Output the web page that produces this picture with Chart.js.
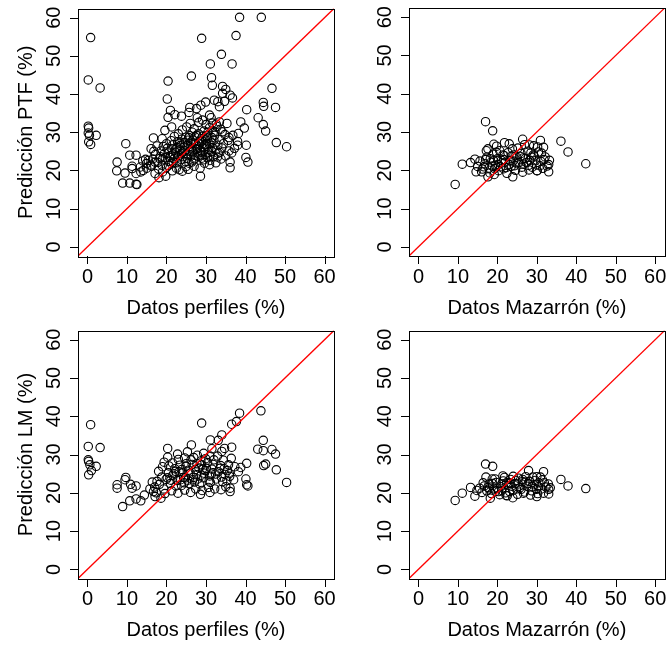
<!DOCTYPE html>
<html>
<head>
<meta charset="utf-8">
<script src="https://cdn.jsdelivr.net/npm/chart.js@4/dist/chart.umd.min.js"></script>
<style>
  body { margin: 0; background: #fff; }
  #wrap { position: relative; width: 670px; height: 646px; }
  #wrap canvas { position: absolute; left: 0; top: 0; }
</style>
</head>
<body>
<div id="wrap">
  <canvas id="c0" width="670" height="646"></canvas>
  <canvas id="c1" width="670" height="646"></canvas>
  <canvas id="c2" width="670" height="646"></canvas>
  <canvas id="c3" width="670" height="646"></canvas>
</div>
<script>
// axis ticks and titles
const tickValues = [0, 10, 20, 30, 40, 50, 60];
const axisMin = -2.4;
const axisMax = 62.4;
const xTitles = ['Datos perfiles (%)', 'Datos Mazarrón (%)', 'Datos perfiles (%)', 'Datos Mazarrón (%)'];
const yTitles = ['Predicción PTF (%)', '', 'Predicción LM (%)', ''];

// PTF prediction vs profile data  [observed, predicted]
const ptfPerfiles = [
  [38.5,60.1],[44.0,60.1],[0.8,54.8],[28.9,54.6],[37.6,55.3],[33.9,50.4],[31.1,47.9],[36.6,47.9],
  [0.2,43.7],[3.2,41.6],[20.4,43.4],[26.3,44.7],[31.4,44.3],[31.6,42.3],[34.2,42.0],[35.0,41.2],
  [34.2,40.2],[36.1,39.7],[36.7,39.0],[20.2,38.7],[46.7,41.5],[44.5,37.8],[44.6,36.8],[47.6,36.5],
  [40.3,35.9],[43.2,33.8],[44.5,32.0],[45.1,30.3],[47.8,27.3],[50.4,26.2],[0.2,31.6],[0.3,31.1],
  [0.2,29.8],[0.5,29.2],[0.3,27.5],[0.8,26.8],[2.2,29.2],[9.7,27.0],[7.5,22.2],[7.4,19.9],
  [9.5,19.3],[8.9,16.7],[10.7,16.7],[12.3,16.4],[12.5,16.3],[10.7,24.0],[12.3,24.0],[11.3,21.1],
  [11.3,20.5],[28.6,18.5],[18.1,18.1],[19.8,18.5],[36.1,20.7],[36.1,22.2],[40.6,22.2],[40.1,23.4],
  [40.2,26.6],[39.7,31.1],[38.8,32.7],[35.3,32.3],[29.9,37.9],[32.1,38.4],[33.0,38.0],[34.7,38.1],
  [33.4,36.7],[28.7,37.1],[27.6,36.2],[25.9,36.5],[25.7,35.2],[21.0,35.7],[22.1,34.6],[23.8,34.2],
  [20.4,33.9],[30.9,34.5],[31.3,33.8],[31.6,32.4],[27.8,33.8],[33.4,32.7],[21.3,31.4],[19.6,30.5],
  [16.7,28.5],[18.9,28.3],[16.1,25.7],[14.7,22.9],[14.0,22.5],[13.4,20.9],[13.5,19.6],[12.3,19.2],
  [14.1,20.0],[15.0,20.6],[16.2,21.1],[17.1,22.2],[18.3,23.1],[18.9,21.3],[17.1,19.2],[20.5,21.3],
  [21.7,22.2],[23.2,20.2],[24.9,21.0],[26.8,22.7],[27.2,24.0],[28.9,24.8],[30.4,23.3],[30.6,24.8],
  [30.9,21.5],[32.9,23.5],[33.1,24.5],[35.8,25.1],[34.4,27.0],[33.5,28.1],[35.8,28.6],[38.2,29.7],
  [38.0,26.6],[38.0,27.6],[34.1,30.1],[32.3,30.1],[32.6,32.1],
  [19.5,24.5],[20.2,25.8],[21.0,23.9],[21.6,26.7],[22.3,24.8],[22.8,27.5],[23.4,25.3],[23.9,28.2],
  [24.5,26.1],[25.0,24.3],[25.4,27.9],[25.9,29.1],[26.3,25.6],[26.8,27.2],[27.2,28.8],[27.7,26.4],
  [28.1,29.6],[28.6,25.2],[29.0,27.7],[29.5,30.3],[30.0,26.9],[30.4,28.5],[30.9,31.2],[31.3,27.4],
  [31.8,29.9],[19.0,22.8],[18.4,23.6],[17.8,22.1],[17.2,24.2],[16.5,23.0],[16.0,21.4],[15.4,22.6],
  [14.9,21.8],[20.6,22.4],[21.3,21.7],[22.0,23.1],[22.6,22.0],[23.1,24.0],[23.7,22.9],[24.2,23.6],
  [24.8,22.3],[25.3,23.2],[25.7,21.9],[26.2,23.8],[26.6,24.9],[27.1,23.0],[27.5,25.5],[28.0,23.7],
  [28.4,26.9],[28.9,23.2],[29.3,25.9],[29.8,24.2],[30.2,26.3],[30.7,25.6],[31.1,24.0],[31.6,26.0],
  [32.0,27.9],[32.5,25.3],[33.0,26.6],[33.5,24.7],[34.0,25.9],[24.0,30.6],[25.1,31.4],[26.0,32.3],
  [27.0,30.9],[28.2,32.6],[29.1,33.2],[30.0,32.0],[23.0,29.6],[22.0,28.9],[21.2,27.8],[20.0,27.0],
  [19.2,26.3],[18.6,25.1],[17.6,26.4],[16.8,25.0],[18.0,20.4],[19.0,19.6],[20.0,20.8],[21.5,19.9],
  [22.5,20.6],[24.0,19.8],[25.5,20.3],[27.0,21.1],[28.5,20.6],[29.6,21.9],[31.0,22.6],[32.5,22.0],
  [33.8,23.0],[35.0,23.8],[36.5,24.6],[37.2,25.8],[35.6,27.9],[36.8,29.2],[34.8,29.4],[33.7,30.8],
  [32.8,31.5],[30.5,30.0],[26.5,30.0],[25.6,28.6],[24.4,27.3],[23.5,26.5],[22.5,25.7],[21.8,24.3],
  [20.8,23.4],[24.7,25.1],[26.0,26.3],[27.4,27.0],[28.8,28.3],[30.1,29.1],[27.9,24.6],[29.4,22.8],
  [31.9,23.6],
  [22.7,26.0],[23.3,27.1],[24.1,24.8],[24.9,28.7],[25.8,25.0],[26.7,28.0],[27.6,29.2],[28.3,27.6],
  [29.2,29.0],[29.9,28.0],[30.8,27.0],[31.5,28.6],[32.2,29.2],[26.1,27.4],[25.2,26.4],[23.8,24.4],
  [22.9,23.5],[21.4,25.6],[20.4,24.6],[19.7,23.3],[28.7,24.1],[27.8,25.7],[26.4,22.2],[29.7,26.7],
  [31.4,25.0]
];

// PTF prediction vs Mazarrón data
const ptfMazarron = [
  [17.0,32.7],[18.8,30.3],[9.3,16.3],[11.1,21.6],[13.2,22.0],[14.3,22.9],[42.4,21.7],[37.9,24.8],
  [36.1,27.6],[30.9,27.8],[26.4,28.1],[31.7,26.0],[33.0,21.5],[33.0,19.6],[30.0,19.9],[23.9,18.3],
  [17.6,18.3],[19.2,18.9],[14.6,19.6],[21.8,27.2],[19.1,26.8],[17.2,25.1],[29.2,26.4],[28.1,26.6],
  [15.0,21.0],[15.6,22.4],[16.2,20.3],[16.8,21.7],[17.3,23.4],[17.9,20.6],[18.4,22.1],[18.9,24.2],
  [19.5,21.3],[20.0,23.0],[20.6,25.1],[21.1,21.9],[21.7,23.8],[22.2,20.7],[22.7,24.6],[23.3,22.5],
  [23.8,25.6],[24.4,21.2],[24.9,23.4],[25.5,22.0],[26.0,24.4],[26.6,21.6],[27.1,23.1],[27.7,25.0],
  [28.2,22.6],[28.8,20.8],[29.3,23.7],[29.9,21.4],[30.4,24.8],[31.0,22.3],[31.5,20.5],[32.1,23.5],
  [32.6,21.1],[17.6,25.6],[19.8,26.3],[21.4,24.0],[23.0,26.9],[25.2,25.8],[26.9,26.7],[28.5,24.6],
  [30.2,26.1],[31.2,24.5],[16.0,19.6],[18.1,19.3],[20.3,19.9],[22.4,19.2],[24.6,20.0],[26.4,19.5],
  [28.0,20.1],[30.1,19.9],[19.3,20.4],[21.0,22.6],[23.5,21.0],[25.8,23.6],[27.4,22.0],[29.1,24.0],
  [24.2,24.0],[22.0,22.1],[20.8,20.9],[18.7,21.1],[17.0,22.8],[26.2,20.8],[28.6,23.4],[31.8,22.8],
  [33.2,22.6],
  [18.2,23.0],[19.0,22.5],[20.2,21.5],[21.6,20.4],[22.9,21.5],[23.6,23.7],[25.0,21.7],[26.5,23.2],
  [27.9,21.3],[29.6,22.5],[30.8,21.2],[16.6,20.9],[19.8,24.7],[24.0,22.4],[21.6,22.8]
];

// LM prediction vs profile data
const lmPerfiles = [
  [43.9,41.4],[38.5,40.8],[37.7,38.6],[36.5,37.9],[28.9,38.2],[0.8,37.8],[34.0,35.1],[33.1,33.7],
  [31.1,33.8],[26.3,32.5],[20.3,31.6],[0.2,32.1],[3.2,31.8],[44.5,33.7],[43.1,31.4],[44.5,31.0],
  [46.7,31.3],[47.6,30.1],[44.6,27.1],[45.1,27.5],[47.8,26.0],[50.4,22.7],[0.2,28.6],[0.3,28.2],
  [0.6,27.3],[0.3,24.7],[1.0,25.8],[2.2,26.9],[9.7,24.0],[9.5,23.4],[7.5,22.1],[7.5,21.2],
  [10.9,22.2],[12.3,21.8],[11.3,21.2],[8.9,16.4],[10.7,17.9],[12.3,18.4],[13.5,17.9],[14.4,19.4],
  [28.6,19.6],[31.0,20.1],[36.1,20.3],[36.1,21.2],[40.3,22.1],[40.6,21.8],[40.1,23.6],[40.3,27.7],
  [38.8,26.6],[38.2,25.5],[35.7,27.3],[35.4,25.8],[34.0,30.8],[34.7,31.6],[36.5,31.9],[31.5,31.5],
  [20.3,29.3],[18.6,18.6],[17.1,19.0],[16.7,20.3],
  [17.0,21.5],[17.6,23.0],[18.2,22.2],[18.8,24.1],[19.3,21.0],[19.9,23.5],[20.5,25.2],[21.0,22.4],
  [21.6,24.6],[22.1,26.3],[22.7,23.2],[23.2,25.5],[23.8,21.9],[24.3,24.0],[24.9,26.9],[25.4,23.3],
  [26.0,25.1],[26.5,27.4],[27.1,22.8],[27.6,24.7],[28.2,26.5],[28.7,28.3],[29.3,23.9],[29.8,25.8],
  [30.4,27.9],[30.9,24.4],[31.5,26.2],[32.0,28.6],[32.6,23.6],[33.1,25.5],[33.7,27.1],[34.2,22.9],
  [34.8,24.8],[35.3,23.2],[36.0,24.3],[37.0,23.4],[21.5,27.8],[23.0,28.7],[24.6,29.1],[26.2,28.6],
  [27.8,29.8],[29.4,30.3],[31.0,29.6],[25.3,30.7],[19.0,26.8],[20.6,27.0],[18.0,25.6],[16.4,22.8],
  [15.8,21.0],[17.4,20.0],[19.6,19.8],[21.3,20.5],[22.9,19.9],[24.6,20.7],[26.1,20.1],[27.4,21.0],
  [29.0,20.6],[30.6,21.4],[32.2,21.0],[33.8,20.8],[35.0,21.6],[22.4,21.8],[25.7,22.4],[28.4,22.3],
  [31.1,22.7],[20.2,23.9],[23.6,23.4],[26.8,24.0],[29.6,25.1],[32.4,24.9],[24.1,25.3],[27.3,26.1],
  [30.1,26.4],[21.9,25.0],[25.0,27.6],[28.9,27.3],[33.5,26.4],[35.9,25.0],[37.3,26.8],[34.4,28.5],
  [36.4,29.0],[22.8,30.1],[19.4,28.0],
  [22.3,25.6],[23.4,27.2],[24.5,22.6],[25.6,25.9],[26.6,23.4],[27.7,27.6],[28.8,24.6],[29.9,28.9],
  [30.8,23.1],[31.8,27.4],[32.9,29.6],[33.9,24.1],[23.9,26.1],[26.9,29.2],[29.1,26.2],[21.1,23.3],
  [24.8,23.9],[27.9,23.6],[31.4,24.9],[34.6,26.3]
];

// LM prediction vs Mazarrón data
const lmMazarron = [
  [17.0,27.5],[18.8,26.9],[9.3,18.0],[11.1,19.9],[13.2,21.4],[42.4,21.1],[37.9,21.8],[36.1,23.5],
  [31.7,25.5],[27.9,25.8],[17.1,24.1],[18.7,23.6],[21.4,24.4],[30.0,24.2],[30.9,24.1],[29.0,24.1],
  [26.4,23.5],[33.0,20.9],[33.0,19.7],[30.0,19.0],[23.9,18.7],[18.2,18.6],[14.3,19.1],[22.2,19.3],
  [14.8,20.6],[15.5,21.2],[16.1,20.1],[16.7,21.8],[17.3,20.5],[17.9,22.3],[18.5,19.8],[19.1,21.0],
  [19.7,22.7],[20.3,20.3],[20.9,21.6],[21.5,23.1],[22.1,20.0],[22.7,21.9],[23.3,23.5],[23.9,20.6],
  [24.5,22.4],[25.1,19.6],[25.7,21.3],[26.3,22.9],[26.9,20.2],[27.5,21.7],[28.1,23.0],[28.7,20.5],
  [29.3,22.1],[29.9,20.9],[30.5,22.6],[31.1,21.0],[31.7,19.9],[32.3,21.5],[32.9,22.3],[19.4,23.6],
  [21.8,24.0],[24.0,24.3],[25.4,23.8],[27.2,24.2],[23.0,22.6],[20.6,19.5],[18.0,21.0],[16.4,22.6],
  [24.8,21.0],[26.6,19.9],[28.4,19.4],[30.2,19.8],[22.5,19.2],[27.8,22.4],[29.6,23.2],[31.4,23.4],
  [33.4,21.3],[21.2,22.3],
  [17.6,21.4],[18.8,22.4],[20.0,21.2],[21.1,20.6],[22.3,22.6],[23.6,21.7],[24.7,23.2],[26.0,20.9],
  [27.0,22.8],[28.8,21.6],[30.4,21.6],[31.9,22.6],[25.3,22.3],[19.6,20.4],[23.1,20.3]
];

const panelData = [ptfPerfiles, ptfMazarron, lmPerfiles, lmMazarron];

// plot boxes in page pixels
const boxes = [
  { left: 78, top: 8.5, right: 334, bottom: 256 },
  { left: 409, top: 8, right: 665.5, bottom: 256 },
  { left: 78, top: 330.5, right: 334, bottom: 578.5 },
  { left: 409, top: 330.5, right: 665.5, bottom: 578.5 }
];

const FONT = '20px "Liberation Sans", Arial, sans-serif';

const axesPlugin = {
  id: 'rAxes',
  afterDraw(chart, args, opts) {
    const ctx = chart.ctx;
    const a = chart.chartArea;
    const xs = chart.scales.x;
    const ys = chart.scales.y;
    ctx.save();
    ctx.strokeStyle = '#000';
    ctx.lineWidth = 1;
    ctx.strokeRect(Math.round(a.left) + 0.5, Math.round(a.top) + 0.5,
      Math.round(a.right - a.left), Math.round(a.bottom - a.top));

    ctx.fillStyle = '#000';
    ctx.font = FONT;
    ctx.textAlign = 'center';
    ctx.textBaseline = 'middle';
    ctx.beginPath();
    tickValues.forEach(v => {
      const px = Math.round(xs.getPixelForValue(v)) + 0.5;
      ctx.moveTo(px, Math.round(a.bottom));
      ctx.lineTo(px, Math.round(a.bottom) + 8);
      const py = Math.round(ys.getPixelForValue(v)) + 0.5;
      ctx.moveTo(Math.round(a.left), py);
      ctx.lineTo(Math.round(a.left) - 8, py);
    });
    ctx.stroke();

    tickValues.forEach(v => {
      ctx.fillText(String(v), xs.getPixelForValue(v), a.bottom + 21);
      ctx.save();
      ctx.translate(a.left - 24, ys.getPixelForValue(v));
      ctx.rotate(-Math.PI / 2);
      ctx.fillText(String(v), 0, 0);
      ctx.restore();
    });

    ctx.fillText(opts.xTitle, (a.left + a.right) / 2, a.bottom + 52);
    if (opts.yTitle) {
      ctx.save();
      ctx.translate(a.left - 52, (a.top + a.bottom) / 2);
      ctx.rotate(-Math.PI / 2);
      ctx.fillText(opts.yTitle, 0, 0);
      ctx.restore();
    }
    ctx.restore();
  }
};

boxes.forEach((b, i) => {
  const ctx = document.getElementById('c' + i).getContext('2d');
  new Chart(ctx, {
    type: 'scatter',
    data: {
      datasets: [
        {
          type: 'line',
          data: [{ x: axisMin, y: axisMin }, { x: axisMax, y: axisMax }],
          borderColor: '#ff0000',
          borderWidth: 1.3,
          pointRadius: 0,
          fill: false,
          order: 0
        },
        {
          data: panelData[i].map(p => ({ x: p[0], y: p[1] })),
          backgroundColor: 'rgba(0,0,0,0)',
          borderColor: '#000',
          borderWidth: 1.1,
          pointRadius: 4.2,
          order: 1
        }
      ]
    },
    options: {
      responsive: false,
      animation: false,
      devicePixelRatio: 1,
      events: [],
      layout: {
        padding: { left: b.left, top: b.top, right: 670 - b.right, bottom: 646 - b.bottom }
      },
      scales: {
        x: { type: 'linear', min: axisMin, max: axisMax, display: false },
        y: { type: 'linear', min: axisMin, max: axisMax, display: false }
      },
      plugins: {
        legend: { display: false },
        tooltip: { enabled: false },
        rAxes: { xTitle: xTitles[i], yTitle: yTitles[i] }
      }
    },
    plugins: [axesPlugin]
  });
});
</script>
</body>
</html>
